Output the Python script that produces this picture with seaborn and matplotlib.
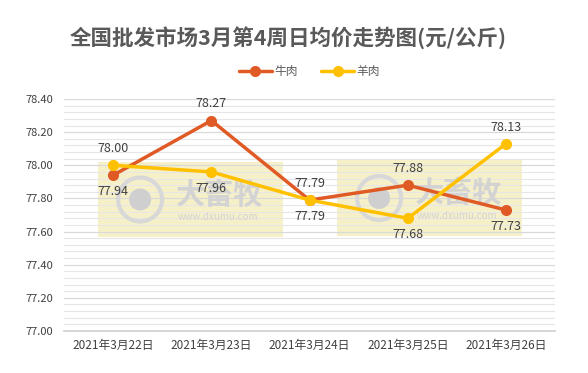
import numpy as np
import pandas as pd
import matplotlib
matplotlib.use("Agg")
import matplotlib.pyplot as plt
from matplotlib.patches import Rectangle, Ellipse
import seaborn as sns

dates = ["2021年3月22日", "2021年3月23日", "2021年3月24日", "2021年3月25日", "2021年3月26日"]
beef = [77.94, 78.27, 77.79, 77.88, 77.73]
mutton = [78.00, 77.96, 77.79, 77.68, 78.13]
series_names = ["牛肉", "羊肉"]
title = "全国批发市场3月第4周日均价走势图(元/公斤)"

sns.set_theme(style="white")
plt.rcParams['font.family'] = ['Noto Sans CJK SC', 'DejaVu Sans']

df = pd.DataFrame({
    "date": dates * 2,
    "price": beef + mutton,
    "kind": [series_names[0]] * len(dates) + [series_names[1]] * len(dates),
})

colors = {"牛肉": "#E05A26", "羊肉": "#FFC000"}

fig = plt.figure(figsize=(5.88, 3.73), dpi=100)
ax = fig.add_axes([0.109, 0.1126, 0.835, 0.622])
AW, AH = 491.0, 232.0  # axes size in pixels

def px(xp, yp):
    # figure pixel (from top-left) -> axes fraction
    return (xp - 64) / AW, (331 - yp) / AH

# watermarks
for (rx0, rx1, ry0, ry1) in [(98, 283, 162, 237), (337, 522, 160, 236)]:
    x0, y1 = px(rx0, ry0)
    x1, y0 = px(rx1, ry1)
    ax.add_patch(Rectangle((x0, y0), x1 - x0, y1 - y0, transform=ax.transAxes,
                           facecolor="#F3EBB8", edgecolor="none", alpha=0.75, zorder=0.5))
    cx, cy = px(rx0 + 42, (ry0 + ry1) / 2)
    ax.add_patch(Ellipse((cx, cy), 44 / AW, 44 / AH, transform=ax.transAxes,
                         facecolor="none", edgecolor="#D8D8D8", linewidth=3, zorder=0.6))
    ax.add_patch(Ellipse((cx, cy), 22 / AW, 22 / AH, transform=ax.transAxes,
                         facecolor="#CFCFCF", edgecolor="none", zorder=0.6))
    tx, ty = px(rx0 + 122, (ry0 + ry1) / 2 - 5)
    ax.text(tx, ty, "大畜牧", transform=ax.transAxes, ha="center", va="center",
            fontsize=21, fontweight="bold", color="#D3D3D3", zorder=0.6)
    wx, wy = px(rx0 + 120, (ry0 + ry1) / 2 + 18)
    ax.text(wx, wy, "www.dxumu.com", transform=ax.transAxes, ha="center",
            va="center", fontsize=7, color="#D3D3D3", zorder=0.6)

sns.lineplot(data=df, x="date", y="price", hue="kind", palette=colors, ax=ax,
             marker="o", markersize=8, markeredgewidth=0, linewidth=2.5, zorder=3,
             sort=False)

ax.set_ylim(77.0, 78.4)
ax.set_xlim(-0.5, len(dates) - 0.5)
major = np.arange(77.0, 78.41, 0.2)
minor = np.arange(77.0, 78.41, 0.04)
ax.set_yticks(major)
ax.set_yticks(minor, minor=True)
ax.set_yticklabels([f"{v:.2f}" for v in major], fontsize=8, color="#404040")
ax.grid(which="major", axis="y", color="#D9D9D9", linewidth=0.9, zorder=0)
ax.grid(which="minor", axis="y", color="#E6E6E6", linewidth=0.8, zorder=0)
ax.set_axisbelow(True)
ax.tick_params(axis="y", which="both", length=0, pad=8)
ax.set_xticks(range(len(dates)))
ax.set_xticklabels(dates, fontsize=8.5, color="#404040")
ax.set_xticks(np.arange(-0.5, len(dates), 1.0), minor=True)
ax.tick_params(axis="x", which="major", length=0, pad=6)
ax.tick_params(axis="x", which="minor", length=4, color="#D0D0D0", width=0.8, direction="out")
for s in ["top", "left", "right"]:
    ax.spines[s].set_visible(False)
ax.spines["bottom"].set_color("#D0D0D0")
ax.set_xlabel("")
ax.set_ylabel("")

# data labels
beef_pos = ["below", "above", "above", "above", "below"]
mutton_pos = ["above", "below", "below", "below", "above"]
for vals, poss in [(beef, beef_pos), (mutton, mutton_pos)]:
    for i, (v, p) in enumerate(zip(vals, poss)):
        off = 12 if p == "above" else -12
        ax.annotate(f"{v:.2f}", (i, v), xytext=(0, off), textcoords="offset points",
                    ha="center", va="center", fontsize=9, color="#404040", zorder=5)

leg = ax.legend(loc="lower center", bbox_to_anchor=(0.5, 1.045), ncol=2, frameon=False,
                fontsize=8.5, handlelength=2.8, columnspacing=2.0, handletextpad=0.2)
for t in leg.get_texts():
    t.set_color("#595959")

fig.text(0.49, 0.9, title, ha="center", va="center", fontsize=15.5,
         fontweight="bold", color="#595959")

fig.savefig("out.png", dpi=100)
